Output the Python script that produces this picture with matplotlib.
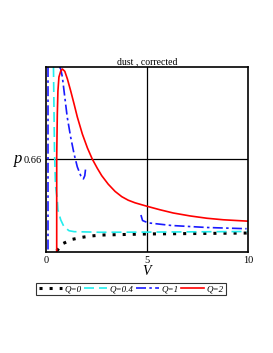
import matplotlib
matplotlib.use("Agg")
import matplotlib.pyplot as plt

# Q=0 (black dotted)
q0_x = [0.53, 0.86, 1.30, 1.77, 2.24, 2.74, 5.0, 10.0]
q0_y = [0.6007, 0.6056, 0.6082, 0.6095, 0.6104, 0.6110, 0.6117, 0.6123]

# Q=0.4 (cyan dashed)
q04_x = [0.37, 0.42, 0.47, 0.56, 0.59, 0.73, 0.89, 1.14, 1.39, 2.67, 5.0, 10.0]
q04_y = [0.720, 0.666, 0.643, 0.6337, 0.6272, 0.6208, 0.6164, 0.6138, 0.6132, 0.6128,
         0.6129, 0.6133]

# Q=1 (blue dash-dot), three branches
q1a_x = [0.10, 0.10]
q1a_y = [0.720, 0.600]
q1b_x = [0.67, 0.73, 0.81, 0.93, 1.05, 1.22, 1.39, 1.55, 1.72, 1.85, 1.92, 1.97]
q1b_y = [0.720, 0.7187, 0.7135, 0.7005, 0.6876, 0.6746, 0.6636, 0.6552, 0.6495, 0.6474,
         0.6495, 0.6552]
q1c_x = [4.70, 4.78, 5.06, 6.21, 7.96, 9.93]
q1c_y = [0.6240, 0.6204, 0.6189, 0.6172, 0.6159, 0.6151]

# Q=2 (red solid)
q2_x = [0.53, 0.53, 0.53, 0.56, 0.59, 0.64, 0.73, 0.81, 0.93, 1.06, 1.22, 1.39, 1.55,
        1.80, 2.05, 2.29, 2.54, 2.76, 3.08, 3.42, 3.75, 4.07, 4.41, 4.99, 5.64, 6.30,
        7.13, 7.96, 8.78, 10.0]
q2_y = [0.600, 0.6454, 0.6616, 0.6895, 0.7044, 0.7135, 0.7174, 0.7187, 0.7172, 0.7122,
        0.7046, 0.6960, 0.6876, 0.6765, 0.6675, 0.6603, 0.6543, 0.6495, 0.6440, 0.6393,
        0.6359, 0.6336, 0.6319, 0.6297, 0.6274, 0.6253, 0.6234, 0.6219, 0.6209, 0.6200]

x_ticks = [0, 5, 10]
y_ticks = [0.66]

plt.rcParams['font.family'] = ['Liberation Serif', 'DejaVu Serif']

fig = plt.figure(figsize=(2.73, 3.53), dpi=100)
ax = fig.add_axes([46/273, 1-252/353, (248-46)/273, (252-67)/353])

ax.plot(q0_x, q0_y, color='black', lw=2.2, linestyle=(0, (1.0, 2.3)),
        dash_capstyle='butt', label='Q=0')
ax.plot(q04_x, q04_y, color='#22eeee', lw=1.2, linestyle=(0, (6, 3)), label='Q=0.4')
ax.plot(q1a_x, q1a_y, color='#1a1aff', lw=1.2, linestyle=(0, (6, 2, 1.5, 2)), label='Q=1')
ax.plot(q1b_x, q1b_y, color='#1a1aff', lw=1.2, linestyle=(0, (6, 2, 1.5, 2)))
ax.plot(q1c_x, q1c_y, color='#1a1aff', lw=1.2, linestyle=(0, (6, 2, 1.5, 2)))
ax.plot(q2_x, q2_y, color='red', lw=1.2, label='Q=2')

ax.axvline(5, color='black', lw=0.9, zorder=0)
ax.axhline(0.66, color='black', lw=0.9, zorder=0)

ax.set_xlim(0, 10)
ax.set_ylim(0.60, 0.72)
ax.set_xticks(x_ticks)
ax.set_xticklabels(['0', '5', '10'])
ax.set_yticks(y_ticks)
ax.set_yticklabels(['0.66'])
ax.tick_params(axis='both', labelsize=7.5, length=0, pad=3)
for s in ax.spines.values():
    s.set_linewidth(1.2)

ax.set_title('dust , corrected', fontsize=7, pad=2)
ax.set_xlabel('V', fontsize=10, style='italic', labelpad=0)
ax.set_ylabel('p', fontsize=12, style='italic', rotation=0, labelpad=2, va='center')
ax.yaxis.set_label_coords(-0.14, 0.5)

leg = fig.legend(loc='center', bbox_to_anchor=(131/273, 1-289/353), ncol=4,
                 frameon=True, fancybox=False, edgecolor='black',
                 handlelength=2.6, handletextpad=0.2, columnspacing=0.3,
                 borderpad=0.25, borderaxespad=0,
                 prop={'style': 'italic', 'size': 6.5, 'family': 'Liberation Serif'})
leg.get_frame().set_linewidth(0.8)

fig.savefig('out.png', dpi=100)
